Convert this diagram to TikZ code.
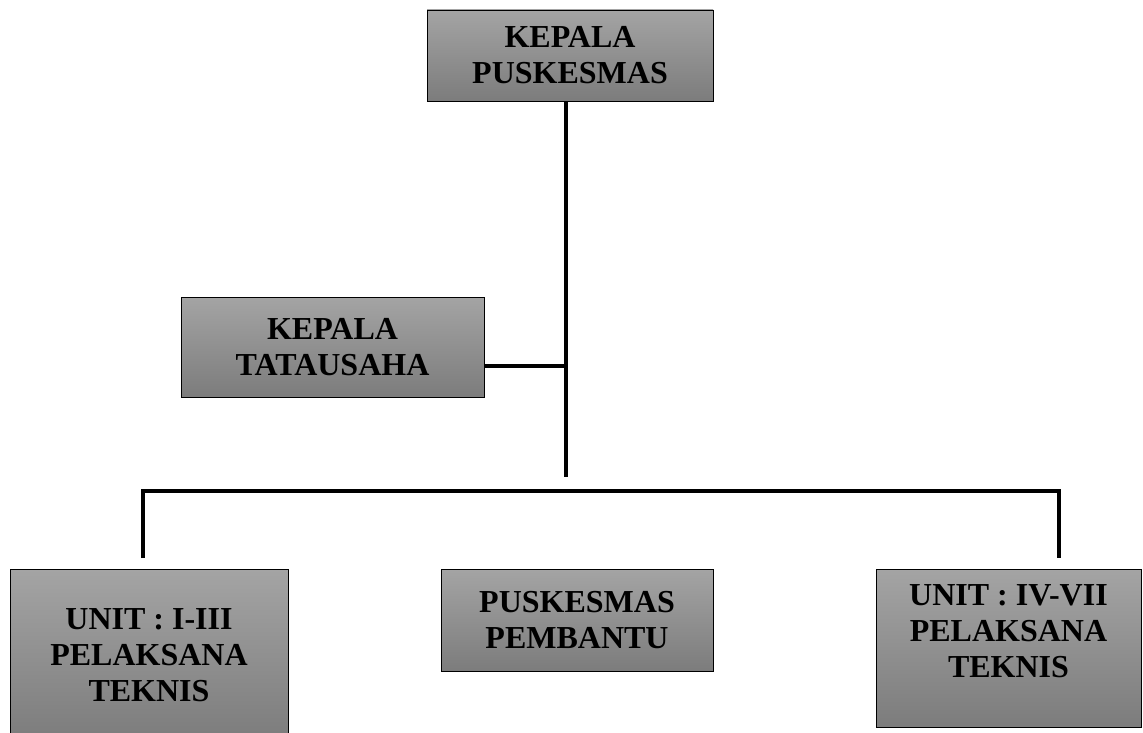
\documentclass[tikz,border=0pt]{standalone}
\usepackage{fontspec}
\setmainfont{Liberation Serif}
\usetikzlibrary{positioning}
\definecolor{boxtop}{RGB}{164,164,164}
\definecolor{boxbottom}{RGB}{124,124,124}

\begin{document}
\begin{tikzpicture}[x=1pt, y=-1pt, line width=3.5pt, draw=black]
    \tikzstyle{unit text}=[align=center, inner sep=0pt, font=\bfseries\fontsize{32}{36}\selectfont]
    \tikzstyle{unit}=[unit text, rectangle, draw=black, line width=0.9pt, top color=boxtop, bottom color=boxbottom];

    \clip (0,0) rectangle (1143,733);

    % Draw the head and the office nodes
    \node[unit, minimum width=286pt, minimum height=91pt] (kp) at (570,55.5) {KEPALA\\PUSKESMAS};
    \node[unit, minimum width=303pt, minimum height=100pt] (ktu) at (332.5,347) {KEPALA\\TATAUSAHA};

    % Draw the unit nodes
    \node[unit, minimum width=278pt, minimum height=172pt] (u1) at (149,655) {UNIT : I-III\\PELAKSANA\\TEKNIS};
    \node[unit, minimum width=272pt, minimum height=102pt] (pp) at (577,620) {PUSKESMAS\\PEMBANTU};
    \node[unit, minimum width=265pt, minimum height=158pt] (u2) at (1008.5,648) {};
    \node[unit text, below=14pt of u2.north] (u2 text) {UNIT : IV-VII\\PELAKSANA\\TEKNIS};

    % Points where the lines meet
    \coordinate (trunk) at (566,477);
    \coordinate (tu joint) at (566,366);
    \coordinate (bar) at (566,491);
    \coordinate (drop left) at (143,558);
    \coordinate (drop right) at (1059,558);

    % Connect the head down the trunk, and the office to it
    \draw (kp.south -| trunk) -- (trunk);
    \draw (ktu.east |- tu joint) -- (tu joint);

    % The bar over the units
    \draw (drop left) -- (drop left |- bar) -- (drop right |- bar) -- (drop right);
\end{tikzpicture}
\end{document}
